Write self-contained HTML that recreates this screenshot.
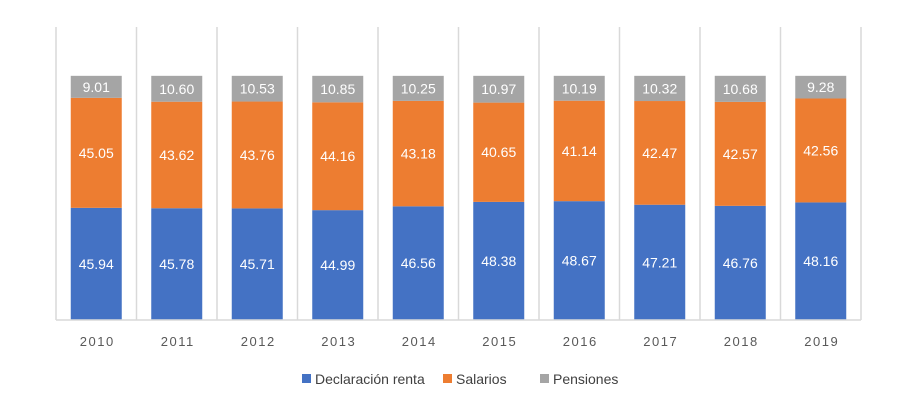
<!DOCTYPE html>
<html><head><meta charset="utf-8"><style>
body{margin:0;background:#fff;font-family:"Liberation Sans",sans-serif}
svg text{font-family:"Liberation Sans",sans-serif}
</style></head><body>
<svg width="924" height="407" id="c"></svg>
<script>
const years=["2010","2011","2012","2013","2014","2015","2016","2017","2018","2019"];
const renta=[45.94,45.78,45.71,44.99,46.56,48.38,48.67,47.21,46.76,48.16];
const salarios=[45.05,43.62,43.76,44.16,43.18,40.65,41.14,42.47,42.57,42.56];
const pensiones=[9.01,10.60,10.53,10.85,10.25,10.97,10.19,10.32,10.68,9.28];
const series=[{name:"Declaración renta",vals:renta,color:"#4472C4"},{name:"Salarios",vals:salarios,color:"#ED7D31"},{name:"Pensiones",vals:pensiones,color:"#A5A5A5"}];
const NS="http://www.w3.org/2000/svg",svg=document.getElementById('c');
const L=56,R=861,T=27,B=320,MAX=120;
const step=(R-L)/years.length,bw=51;
const y=v=>B-(v/MAX)*(B-T);
const xc=i=>L+step*(i+0.5);
function mk(t,a,txt){const e=document.createElementNS(NS,t);for(const k in a)e.setAttribute(k,a[k]);if(txt!=null)e.textContent=txt;svg.appendChild(e);return e;}
for(let i=0;i<=years.length;i++){
const g=mk('line',{x1:L+step*i,x2:L+step*i,y1:T,y2:B,stroke:"#D9D9D9","stroke-width":1.5});


}
years.forEach((yr,i)=>{
let base=0;
series.forEach((s,si)=>{
const v=s.vals[i];
const r=mk('rect',{x:xc(i)-bw/2,y:y(base+v),width:bw,height:y(base)-y(base+v),fill:s.color});


const t=mk('text',{x:xc(i),y:y(base+v/2)+5,"text-anchor":"middle",fill:"#fff","font-size":14},v.toFixed(2));


base+=v;
});
const lb=mk('text',{x:xc(i)+1,y:346,"text-anchor":"middle",fill:"#595959","font-size":13,"letter-spacing":"1.5"},yr);


});
const ax=mk('line',{x1:L,x2:R,y1:B,y2:B,stroke:"#D9D9D9","stroke-width":1.5});


const lx=[302,443,540];
series.forEach((s,i)=>{
const r=mk('rect',{x:lx[i],y:374,width:9,height:9,fill:s.color});


const t=mk('text',{x:lx[i]+13,y:384,fill:"#404040","font-size":14},s.name);


});
</script>
</body></html>
